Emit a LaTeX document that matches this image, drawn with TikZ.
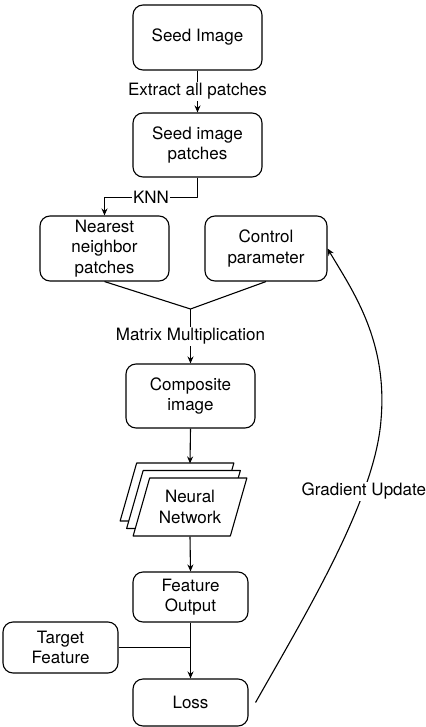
\documentclass[tikz,border=0pt]{standalone}
\usepackage{fontspec}
\setmainfont{TeX Gyre Heros}
\usetikzlibrary{arrows.meta,shapes.geometric,shadows}
\begin{document}
\begin{tikzpicture}[x=1pt, y=-1pt, font=\fontsize{17}{20.5}\selectfont, line width=1.1pt, line join=round, >={Stealth[length=7pt,width=6pt]},
	box/.style={draw, fill=white, rounded corners=10pt, align=center, inner sep=0pt},
	lbl/.style={fill=white, inner sep=1.5pt}]
	\useasboundingbox (0,0) rectangle (425,727);
	\node[box, minimum width=129pt, minimum height=65pt] (seed) at (197.5,37.5) {Seed Image};
	\node[box, minimum width=129pt, minimum height=64pt] (patches) at (197.5,145) {Seed image\\patches};
	\node[box, minimum width=129pt, minimum height=65pt] (nearest) at (104.5,248.5) {Nearest\\neighbor\\patches};
	\node[box, minimum width=122pt, minimum height=65pt] (control) at (266,248.5) {Control\\parameter};
	\node[box, minimum width=129pt, minimum height=64pt] (composite) at (190.5,396) {Composite\\image};
	\node[trapezium, trapezium left angle=69, trapezium right angle=111, trapezium stretches=true,
		draw, fill=white, align=center, inner sep=0pt, minimum width=114pt, minimum height=58pt,
		copy shadow={shadow xshift=-13pt, shadow yshift=15pt},
		copy shadow={shadow xshift=-6.5pt, shadow yshift=7.5pt}] (nn) at (190,507) {Neural\\Network};
	\node[box, minimum width=115pt, minimum height=50pt] (feat) at (190.5,597) {Feature\\Output};
	\node[box, minimum width=115pt, minimum height=51pt] (target) at (60.5,647.5) {Target\\Feature};
	\node[box, minimum width=115pt, minimum height=47pt] (loss) at (190.5,702.5) {Loss};
	\coordinate (mm) at (190.5,309);

	\draw[->] (seed) -- node[lbl]{Extract all patches} (patches);
	\draw[->] (patches.south) -- ++(0,20) -| node[lbl, pos=0.25]{KNN} (nearest.north);
	\draw (nearest.south) -- (mm) -- (control.south);
	\draw[->] (mm) -- node[lbl]{Matrix Multiplication} (composite.north);
	\draw[->] (composite.south) -- ([yshift=14pt]nn.north);
	\draw[->] (nn.south) -- (feat.north);
	\draw[->] (feat.south) -- (loss.north);
	\draw (target.east) -- (target.east -| feat.south);
	\draw[->] ([xshift=7pt]loss.east) .. controls (305,615) and (375,500) .. node[lbl, pos=0.73]{Gradient Update} (381,420)
		.. controls (388,340) and (352,290) .. (control.east);
\end{tikzpicture}
\end{document}
